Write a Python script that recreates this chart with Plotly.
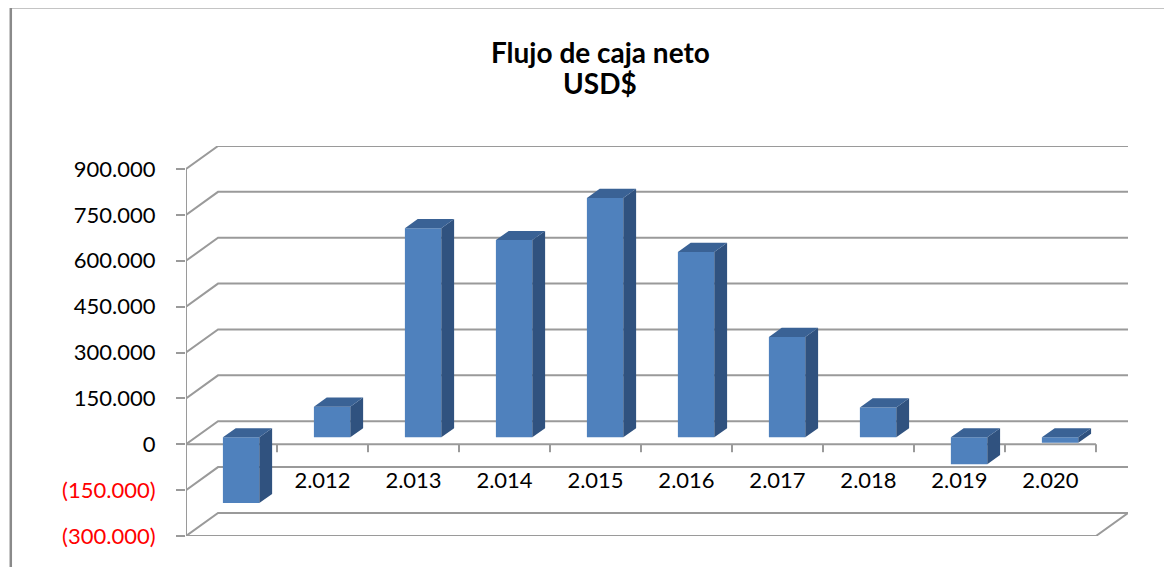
import plotly.graph_objects as go

# ---- data ----
year_labels = ["", "2.012", "2.013", "2.014", "2.015", "2.016", "2.017", "2.018", "2.019", "2.020"]
net_cash_flow = [-215000, 100000, 684000, 645000, 783000, 606000, 328000, 98000, -88000, -18000]
y_tick_values = [-300000, -150000, 0, 150000, 300000, 450000, 600000, 750000, 900000]
y_tick_labels = ["(300.000)", "(150.000)", "0", "150.000", "300.000", "450.000", "600.000", "750.000", "900.000"]
title_lines = ["Flujo de caja neto", "USD$"]

# ---- pseudo-3D geometry (style) ----
DX = 0.352        # wall depth in category units
DY = 75300        # wall depth in value units
FRONT = 0.30      # bar front face depth fraction
BDEPTH = 0.40     # bar depth fraction
BW = 0.40         # bar width
GRID = "#9a9a9a"
FONT = "Lato"

n = len(net_cash_flow)
xs = list(range(n))
x_min, x_max = -0.5, n - 0.5
y_min, y_max = y_tick_values[0], y_tick_values[-1]

shapes = []
for v in y_tick_values:
    shapes.append(dict(type="path", xref="x", yref="y", layer="below",
                       path=f"M {x_min},{v} L {x_min+DX},{v+DY} L {x_max+DX},{v+DY}",
                       line=dict(color=GRID, width=2)))
shapes.append(dict(type="path", xref="x", yref="y", layer="below",
                   path=f"M {x_min},{y_min} L {x_max},{y_min} L {x_max+DX},{y_min+DY}",
                   line=dict(color=GRID, width=2)))
shapes.append(dict(type="line", xref="x", yref="y", layer="below",
                   x0=x_min, x1=x_min, y0=y_min, y1=y_max, line=dict(color=GRID, width=2)))
shapes.append(dict(type="line", xref="x", yref="y", layer="below",
                   x0=x_min, x1=x_max, y0=0, y1=0, line=dict(color=GRID, width=2)))
for i in xs:
    shapes.append(dict(type="line", xref="x", yref="y", layer="below",
                       x0=i + 0.5, x1=i + 0.5, y0=0, y1=-26000, line=dict(color=GRID, width=2)))
shapes.append(dict(type="rect", xref="paper", yref="paper",
                   x0=-0.186, x1=1.3, y0=-0.4, y1=1.356, line=dict(color="#8a8a8a", width=2.5)))

fig = go.Figure()

base = FRONT * DY
bx = [i + FRONT * DX for i in xs]
fig.add_trace(go.Bar(x=bx, y=net_cash_flow, base=base, width=BW,
                     marker=dict(color="#4F81BD", line=dict(width=0)), hoverinfo="skip"))

ddx, ddy = BDEPTH * DX, BDEPTH * DY
side_x, side_y, top_x, top_y = [], [], [], []
for c, v in zip(bx, net_cash_flow):
    lo, hi = base + min(v, 0), base + max(v, 0)
    xl, xr = c - BW / 2, c + BW / 2
    side_x += [xr, xr, xr + ddx, xr + ddx, xr, None]
    side_y += [lo, hi, hi + ddy, lo + ddy, lo, None]
    top_x += [xl, xr, xr + ddx, xl + ddx, xl, None]
    top_y += [hi, hi, hi + ddy, hi + ddy, hi, None]

fig.add_trace(go.Scatter(x=side_x, y=side_y, mode="lines", fill="toself",
                         fillcolor="#30527f", line=dict(width=0, color="#30527f"), hoverinfo="skip"))
fig.add_trace(go.Scatter(x=top_x, y=top_y, mode="lines", fill="toself",
                         fillcolor="#3a6295", line=dict(width=0, color="#3a6295"), hoverinfo="skip"))

tick_text = []
for v, t in zip(y_tick_values, y_tick_labels):
    tick_text.append(f'<span style="color:#ff0000">{t}</span>' if v < 0 else t)

title_y = [1.241, 1.1615]
annotations = [dict(xref="paper", yref="paper", x=0.4395, y=yy,
                    text=f"<b>{t}</b>", showarrow=False, xanchor="center", yanchor="middle",
                    font=dict(family=FONT, size=28, color="black"))
               for t, yy in zip(title_lines, title_y)]

fig.update_layout(
    width=1164, height=559, autosize=False,
    margin=dict(l=178, r=44, t=138, b=31, pad=0),
    paper_bgcolor="white", plot_bgcolor="white",
    showlegend=False,
    shapes=shapes,
    font=dict(family=FONT, size=22, color="black"),
    xaxis=dict(range=[x_min, x_max + DX], tickvals=xs, ticktext=year_labels,
               showgrid=False, zeroline=False, showline=False, ticks="",
               anchor="free", position=0.183, fixedrange=True,
               tickfont=dict(family=FONT, size=22, color="black")),
    yaxis=dict(range=[y_min, y_max + DY], tickvals=y_tick_values, ticktext=tick_text,
               showgrid=False, zeroline=False, showline=False,
               ticks="outside", ticklen=9, tickwidth=2, tickcolor=GRID,
               ticklabelstandoff=16, fixedrange=True,
               tickfont=dict(family=FONT, size=22, color="black")),
    annotations=annotations,
)

fig.write_html("out.html")
